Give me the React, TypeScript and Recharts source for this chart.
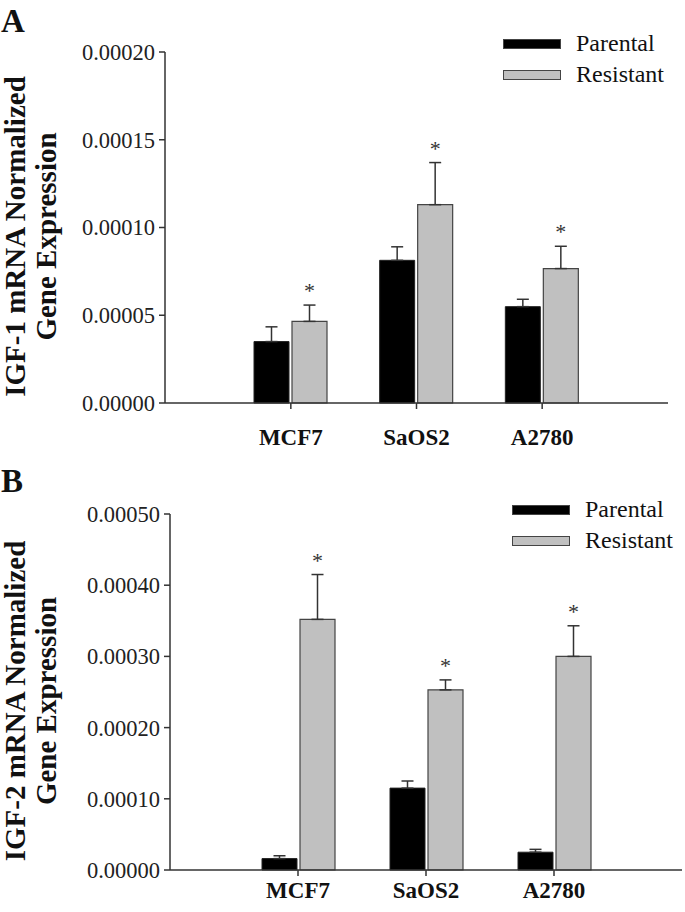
import React from 'react';
import { BarChart, Bar, XAxis, YAxis, ErrorBar, Legend, LabelList, Label } from 'recharts';

const cellLines = ['MCF7', 'SaOS2', 'A2780'];

// IGF-1 panel (A)
const igf1Parental = [0.000035, 0.0000813, 0.0000549];
const igf1ParentalErr = [0.0000084, 0.0000077, 0.0000042];
const igf1Resistant = [0.0000465, 0.000113, 0.0000766];
const igf1ResistantErr = [0.0000093, 0.000024, 0.0000127];
const igf1Ticks = [0, 0.00005, 0.0001, 0.00015, 0.0002];

// IGF-2 panel (B)
const igf2Parental = [0.000016, 0.000115, 0.000025];
const igf2ParentalErr = [0.000004, 0.00001, 0.000004];
const igf2Resistant = [0.000352, 0.000253, 0.0003];
const igf2ResistantErr = [0.000063, 0.000014, 0.000043];
const igf2Ticks = [0, 0.0001, 0.0002, 0.0003, 0.0004, 0.0005];

const SERIF = '"Liberation Serif", "Times New Roman", Times, serif';
const AXIS = '#333';

interface PanelProps {
  letter: string;
  top: number;
  height: number;
  margin: { top: number; right: number; bottom: number; left: number };
  yWidth: number;
  xPad: number;
  xTickMargin: number;
  parental: number[];
  parentalErr: number[];
  resistant: number[];
  resistantErr: number[];
  ticks: number[];
  title: string[];
  legendLeft: number;
  legendTop: number;
}

const renderLegend = (props: any) => {
  const { payload } = props;
  return (
    <div style={{ fontFamily: SERIF }}>
      {(payload || []).map((p: any) => (
        <div key={p.value} style={{ display: 'flex', alignItems: 'center', height: 31 }}>
          <span
            style={{
              display: 'inline-block',
              width: 58,
              height: 10,
              background: p.color,
              border: '1px solid #444',
              boxSizing: 'border-box',
            }}
          />
          <span style={{ marginLeft: 15, fontSize: 24, color: '#111' }}>{p.value}</span>
        </div>
      ))}
    </div>
  );
};

const Panel: React.FC<PanelProps> = (p) => {
  const data = cellLines.map((name, i) => ({
    name,
    parental: p.parental[i],
    resistant: p.resistant[i],
    parentalErr: [0, p.parentalErr[i]],
    resistantErr: [0, p.resistantErr[i]],
  }));

  const yTitle = (lp: any) => {
    const vb = lp.viewBox || {};
    const cy = vb.y + vb.height / 2 + 9;
    return (
      <g>
        {p.title.map((line, i) => {
          const x = 25 + i * 31;
          return (
            <text
              key={line}
              x={x}
              y={cy}
              transform={`rotate(-90, ${x}, ${cy})`}
              textAnchor="middle"
              fontFamily={SERIF}
              fontWeight="bold"
              fontSize={29}
              fill="#111"
            >
              {line}
            </text>
          );
        })}
      </g>
    );
  };

  const star = (lp: any) => {
    const vb = lp.viewBox || lp;
    const x = vb.x ?? lp.x;
    const y = vb.y ?? lp.y;
    const w = vb.width ?? lp.width;
    const h = vb.height ?? lp.height;
    const i = lp.index;
    if (i == null) return null;
    const errPx = (Math.abs(h) * p.resistantErr[i]) / p.resistant[i];
    return (
      <text
        x={x + w / 2}
        y={y - errPx - 7}
        textAnchor="middle"
        fontFamily={SERIF}
        fontSize={22}
        fill="#333"
      >
        *
      </text>
    );
  };

  return (
    <div style={{ position: 'absolute', left: 0, top: p.top, width: 685, height: p.height }}>
      <svg width={40} height={40} style={{ position: 'absolute', left: 0, top: 0 }}>
        <text x={1} y={32} fontFamily={SERIF} fontWeight="bold" fontSize={33} fill="#111">
          {p.letter}
        </text>
      </svg>
      <BarChart
        width={685}
        height={p.height}
        data={data}
        margin={p.margin}
        barSize={35}
        barGap={3}
      >
        <XAxis
          dataKey="name"
          height={40}
          padding={{ left: p.xPad, right: p.xPad }}
          axisLine={{ stroke: AXIS, strokeWidth: 1.5 }}
          tickLine={{ stroke: AXIS, strokeWidth: 1.5 }}
          tickSize={6}
          tickMargin={p.xTickMargin}
          tick={{ fontFamily: SERIF, fontWeight: 'bold', fontSize: 23, fill: '#111' }}
        />
        <YAxis
          width={p.yWidth}
          domain={[0, p.ticks[p.ticks.length - 1]]}
          ticks={p.ticks}
          interval={0}
          tickFormatter={(v: number) => v.toFixed(5)}
          axisLine={{ stroke: AXIS, strokeWidth: 1.5 }}
          tickLine={{ stroke: AXIS, strokeWidth: 1.5 }}
          tickSize={6}
          tickMargin={4}
          tick={{ fontFamily: SERIF, fontSize: 22.5, fill: '#222' }}
        >
          <Label content={yTitle} />
        </YAxis>
        <Legend
          layout="vertical"
          align="center"
          verticalAlign="middle"
          content={renderLegend}
          wrapperStyle={{ left: p.legendLeft, top: p.legendTop, width: 'auto', height: 'auto' }}
        />
        <Bar
          dataKey="parental"
          name="Parental"
          fill="#000"
          stroke="#222"
          strokeWidth={1}
          isAnimationActive={false}
        >
          <ErrorBar dataKey="parentalErr" direction="y" width={6} stroke="#333" strokeWidth={1.5} />
        </Bar>
        <Bar
          dataKey="resistant"
          name="Resistant"
          fill="#c0c0c0"
          stroke="#444"
          strokeWidth={1.2}
          isAnimationActive={false}
        >
          <ErrorBar dataKey="resistantErr" direction="y" width={6} stroke="#333" strokeWidth={1.5} />
          <LabelList dataKey="resistant" content={star} />
        </Bar>
      </BarChart>
    </div>
  );
};

export default function App() {
  return (
    <div style={{ position: 'absolute', left: 0, top: 0, width: 685, height: 912, background: '#fff' }}>
      <Panel
        letter="A"
        top={0}
        height={450}
        margin={{ top: 52, right: 17, bottom: 7, left: 0 }}
        yWidth={165}
        xPad={63}
        xTickMargin={20}
        parental={igf1Parental}
        parentalErr={igf1ParentalErr}
        resistant={igf1Resistant}
        resistantErr={igf1ResistantErr}
        ticks={igf1Ticks}
        title={['IGF-1 mRNA Normalized', 'Gene Expression']}
        legendLeft={503}
        legendTop={28}
      />
      <Panel
        letter="B"
        top={460}
        height={452}
        margin={{ top: 54, right: 3, bottom: 2, left: 0 }}
        yWidth={170}
        xPad={64}
        xTickMargin={6}
        parental={igf2Parental}
        parentalErr={igf2ParentalErr}
        resistant={igf2Resistant}
        resistantErr={igf2ResistantErr}
        ticks={igf2Ticks}
        title={['IGF-2 mRNA Normalized', 'Gene Expression']}
        legendLeft={512}
        legendTop={34}
      />
    </div>
  );
}
